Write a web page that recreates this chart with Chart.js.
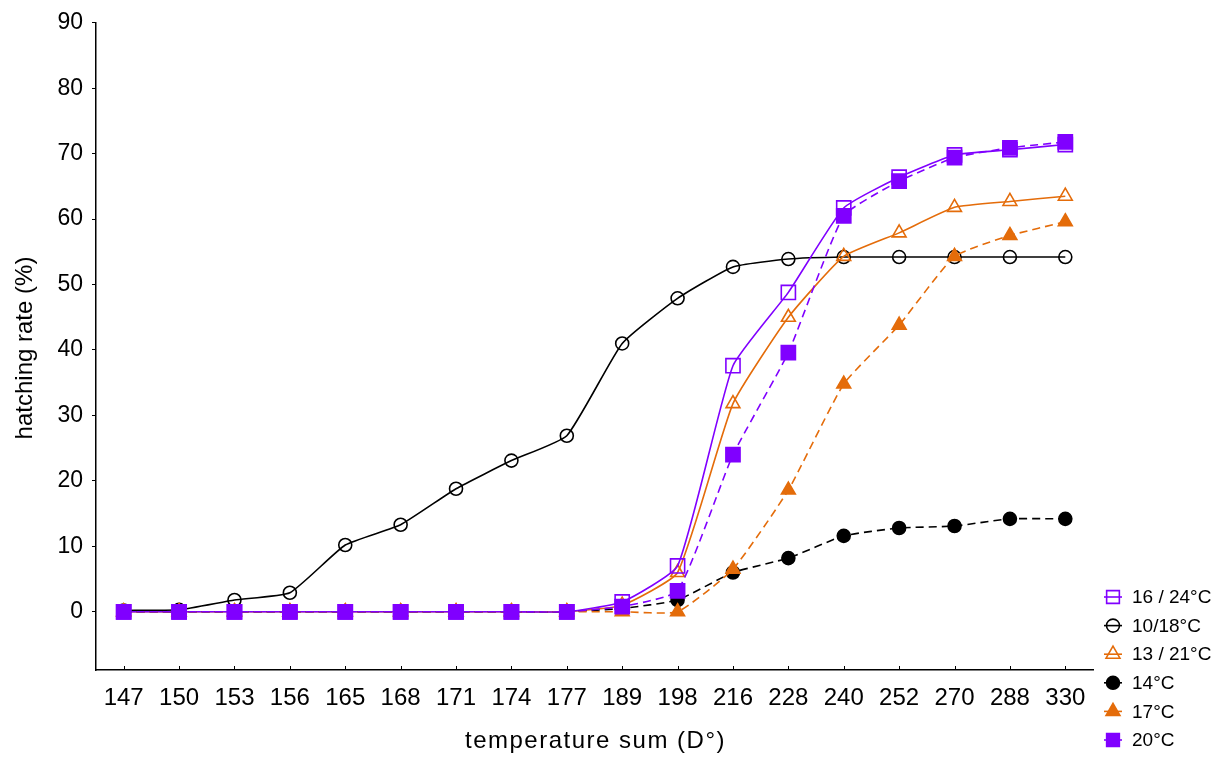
<!DOCTYPE html>
<html>
<head>
<meta charset="utf-8">
<script src="https://cdn.jsdelivr.net/npm/chart.js@4/dist/chart.umd.min.js"></script>
<style>
  html, body { margin: 0; padding: 0; background: #fff; }
  canvas { display: block; }
</style>
</head>
<body>
<canvas id="c" width="1225" height="758"></canvas>
<script>
const sumas = ['147', '150', '153', '156', '165', '168', '171', '174', '177', '189', '198', '216', '228', '240', '252', '270', '288', '330'];
const s16_24 = [0, 0, 0, 0, 0, 0, 0, 0, 0, 1.5, 7.0, 37.6, 48.8, 61.7, 66.4, 69.8, 70.6, 71.4];
const s10_18 = [0.2, 0.3, 1.8, 2.9, 10.2, 13.3, 18.8, 23.1, 26.9, 41.0, 47.9, 52.7, 53.9, 54.2, 54.2, 54.2, 54.2, 54.2];
const s13_21 = [0, 0, 0, 0, 0, 0, 0, 0, 0, 1.0, 6.0, 31.8, 45.0, 54.3, 57.9, 61.8, 62.7, 63.5];
const s14 = [0, 0, 0, 0, 0, 0, 0, 0, 0, 0.5, 1.8, 6.0, 8.2, 11.6, 12.8, 13.1, 14.2, 14.2];
const s17 = [0, 0, 0, 0, 0, 0, 0, 0, 0, 0, 0, 6.5, 18.6, 34.8, 43.8, 54.3, 57.5, 59.6];
const s20 = [0, 0, 0, 0, 0, 0, 0, 0, 0, 0.8, 3.2, 24.0, 39.6, 60.5, 65.8, 69.4, 70.9, 71.8];
const yTicks = [0, 10, 20, 30, 40, 50, 60, 70, 80, 90];

const morado = '#8000ff';
const naranja = '#e46c0a';
const negro = '#000000';
const fuente = 'Liberation Sans, Arial, sans-serif';

function serie(label, data, color, estilo, relleno, discontinua, radio, orden) {
    return {
        label: label,
        data: data,
        borderColor: color,
        backgroundColor: color,
        borderWidth: 1.6,
        borderDash: discontinua ? [8, 5] : [],
        pointStyle: estilo,
        pointRadius: radio,
        pointHoverRadius: radio,
        pointBorderWidth: 1.6,
        pointBorderColor: color,
        pointBackgroundColor: relleno ? color : 'rgba(255,255,255,0)',
        tension: 0.15,
        order: orden
    };
}

// leyenda propia abajo a la derecha
const leyenda = {
    id: 'leyenda',
    afterDraw(chart) {
        const ctx = chart.ctx;
        chart.data.datasets.forEach((ds, i) => {
            const y = 597 + i * 28.6;
            ctx.save();
            ctx.strokeStyle = ds.borderColor;
            ctx.lineWidth = 1.6;
            ctx.beginPath();
            ctx.moveTo(1104, y);
            ctx.lineTo(1122, y);
            ctx.stroke();
            ctx.fillStyle = ds.pointBackgroundColor;
            ctx.strokeStyle = ds.borderColor;
            ctx.lineWidth = 1.6;
            const r = ds.pointStyle === 'rect' ? 9 : ds.pointRadius;
            Chart.helpers.drawPoint(ctx, { pointStyle: ds.pointStyle, radius: r, rotation: 0, borderWidth: 1.6 }, 1113, y);
            ctx.fillStyle = '#000';
            ctx.font = '19px ' + fuente;
            ctx.textBaseline = 'middle';
            ctx.textAlign = 'left';
            ctx.fillText(ds.label, 1132, y + 1);
            ctx.restore();
        });
    }
};

// marcas del eje x hacia dentro y titulos de los ejes
const ejes = {
    id: 'ejes',
    afterDraw(chart) {
        const ctx = chart.ctx;
        const x = chart.scales.x;
        const area = chart.chartArea;
        ctx.save();
        ctx.strokeStyle = '#000';
        ctx.lineWidth = 1;
        x.ticks.forEach((t, i) => {
            const px = Math.round(x.getPixelForTick(i)) + 0.5;
            ctx.beginPath();
            ctx.moveTo(px, area.bottom);
            ctx.lineTo(px, area.bottom - 4);
            ctx.stroke();
        });
        ctx.fillStyle = '#000';
        ctx.textBaseline = 'alphabetic';
        ctx.textAlign = 'center';
        ctx.font = '24px ' + fuente;
        ctx.letterSpacing = '1.5px';
        ctx.fillText('temperature sum (D°)', (area.left + area.right) / 2 + 1, 748);
        ctx.letterSpacing = '0px';
        ctx.translate(32, 348);
        ctx.rotate(-Math.PI / 2);
        ctx.fillText('hatching rate (%)', 0, 0);
        ctx.restore();
    }
};

new Chart(document.getElementById('c'), {
    type: 'line',
    data: {
        labels: sumas,
        datasets: [
            serie('16 / 24°C', s16_24, morado, 'rect', false, false, 10, 3),
            serie('10/18°C', s10_18, negro, 'circle', false, false, 6.5, 5),
            serie('13 / 21°C', s13_21, naranja, 'triangle', false, false, 8, 4),
            serie('14°C', s14, negro, 'circle', true, true, 6.5, 2),
            serie('17°C', s17, naranja, 'triangle', true, true, 8, 1),
            serie('20°C', s20, morado, 'rect', true, true, 10, 0)
        ]
    },
    options: {
        responsive: false,
        animation: false,
        layout: { padding: { top: 21, right: 132, bottom: 0, left: 0 } },
        plugins: {
            legend: { display: false },
            tooltip: { enabled: false }
        },
        scales: {
            x: {
                offset: true,
                grid: { display: true, drawOnChartArea: false, drawTicks: false, offset: false },
                border: { display: true, color: '#000', width: 1.5 },
                ticks: { color: '#000', font: { family: fuente, size: 24 }, padding: 14, maxRotation: 0, autoSkip: false },
                afterFit: s => { s.height = 88; }
            },
            y: {
                min: -8.9,
                max: 90,
                grid: { display: true, drawOnChartArea: false, drawTicks: true, tickLength: 4, color: '#000' },
                border: { display: true, color: '#000', width: 1.5 },
                ticks: { stepSize: 10, color: '#000', font: { family: fuente, size: 23 }, padding: 9 },
                afterBuildTicks: s => { s.ticks = yTicks.map(v => ({ value: v })); },
                afterFit: s => { s.width = 96; }
            }
        }
    },
    plugins: [leyenda, ejes]
});
</script>
</body>
</html>
